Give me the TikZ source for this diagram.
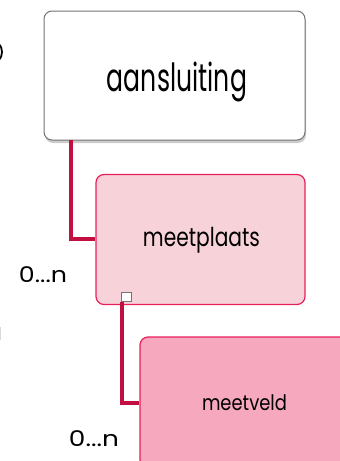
\documentclass[tikz,border=0pt]{standalone}
\usepackage{fontspec}
\setmainfont{Poppins}
\usetikzlibrary{shadows}
\definecolor{conn}{HTML}{C20F41}
\definecolor{edge}{HTML}{E8205A}
\definecolor{plfill}{HTML}{F7D2D8}
\definecolor{vdfill}{HTML}{F6A9BE}
\newcommand{\fitto}[3]{\resizebox*{#1}{#2}{#3}}
\tikzset{
  box/.style={rectangle, rounded corners=8pt, minimum width=209pt, minimum height=130pt, inner sep=0pt},
  topbox/.style={box, draw=black!55, line width=1pt, fill=white, minimum width=261pt, minimum height=129pt,
     drop shadow={shadow xshift=1pt, shadow yshift=-3pt, fill=black!40, opacity=.5}},
  pinkbox/.style={box, draw=edge, line width=1.2pt},
  link/.style={draw=conn, line width=4pt},
  txt/.style={inner sep=0pt},
  hook/.style={rectangle, draw=black!55, fill=white, line width=0.8pt, minimum width=10pt, minimum height=9pt, inner sep=0pt,
     drop shadow={shadow xshift=1pt, shadow yshift=-1pt, fill=black!40, opacity=.5}}
}
\begin{document}
\begin{tikzpicture}[x=1pt,y=-1pt]
\useasboundingbox (0,0) rectangle (340,461);
% cropped fragments at left edge
\draw[line width=1.8pt, black] (-1,44) .. controls (3,48) and (3,56) .. (-1,60);
\draw[line width=0.8pt, black!15] (0,327) -- (0,340);
% nodes
\node[topbox] (aan) at (174.5,75.5) {};
\node[txt] (aant) at (177,82) {\fitto{140pt}{40pt}{aansluiting}};
\node[pinkbox, fill=plfill] (mp) at (200.5,239.5) {};
\node[txt] (mpt) at (201.5,240) {\fitto{117pt}{26pt}{meetplaats}};
\node[pinkbox, fill=vdfill, minimum height=131pt] (mv) at (244.5,402.5) {};
\node[txt] (mvt) at (244.5,403) {\fitto{85pt}{16pt}{meetveld}};
% connectors
\coordinate (c1) at (70.5,140);
\coordinate (c2) at (121.5,302);
\draw[link] (c1) |- (mp.west |- 0,239);
\draw[link] (c2) |- (mv.west |- 0,402.5);
\node[hook] (h) at (126,296.5) {};
% cardinalities
\node[txt] (k1) at (43,275) {\fitto{48pt}{16pt}{0...n}};
\node[txt] (k2) at (94,438.5) {\fitto{50pt}{16pt}{0...n}};
\end{tikzpicture}
\end{document}
